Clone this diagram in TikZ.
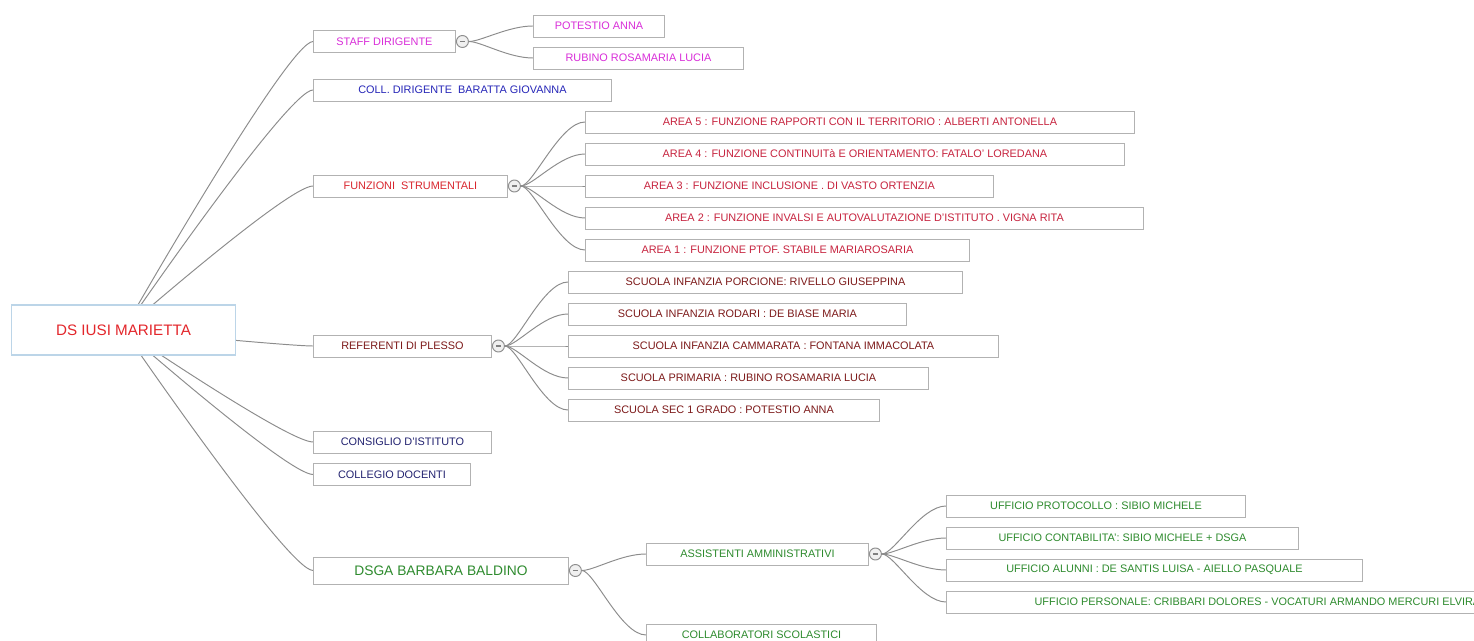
\documentclass[tikz,border=0pt]{standalone}
\usepackage{fontspec}
\setmainfont{Liberation Sans}
\usetikzlibrary{positioning, backgrounds}
\definecolor{boxgray}{HTML}{B2B2B2}
\definecolor{linkgray}{HTML}{8C8C8C}
\definecolor{rootblue}{HTML}{BCD5E8}
\definecolor{rootred}{HTML}{E3262B}
\definecolor{staffpink}{HTML}{D92ED9}
\definecolor{collblue}{HTML}{2626B8}
\definecolor{funzred}{HTML}{D9262E}
\definecolor{areared}{HTML}{C7243F}
\definecolor{plessored}{HTML}{7D1A1A}
\definecolor{organavy}{HTML}{222270}
\definecolor{ammgreen}{HTML}{2E8B2E}

\begin{document}
\begin{tikzpicture}[
        x=0.02cm, y=-0.02cm,
        font=\fontsize{6.2}{7}\selectfont,
        box/.style={draw=boxgray, line width=0.55pt, fill=white, anchor=west,
                    minimum height=0.44cm, inner sep=0pt},
        rootbox/.style={draw=rootblue, line width=0.6pt, fill=white, anchor=west,
                        minimum width=4.48cm, minimum height=1cm,
                        font=\fontsize{8.65}{10}\selectfont, text=rootred},
        fold/.style={circle, draw=boxgray!80!black, fill=gray!12, line width=0.55pt,
                     minimum size=0.24cm, inner sep=0pt,
                     path picture={\draw[gray, line width=0.6pt]
                       ([xshift=-0.05cm]path picture bounding box.center) --
                       ([xshift=0.05cm]path picture bounding box.center);}},
        link/.style={draw=linkgray, line width=0.55pt}
    ]
      \useasboundingbox (0,0) rectangle (1474,641);
      \clip (0,0) rectangle (1474,641);

      % --- Root ---
      \node[rootbox] (root) at (11,330) {DS IUSI MARIETTA};

      % --- Staff dirigente ---
      \node[box, minimum width=2.84cm, text=staffpink] (staff) at (313,41.5) {STAFF DIRIGENTE};
      \node[fold, right=0pt of staff] (staffdot) {};
      \node[box, minimum width=2.62cm, text=staffpink] (pot) at (533,26) {POTESTIO ANNA};
      \node[box, minimum width=4.20cm, text=staffpink] (rub) at (533,58) {RUBINO ROSAMARIA LUCIA};

      \node[box, minimum width=5.96cm, text=collblue] (coll) at (313,90) {COLL. DIRIGENTE\ \ BARATTA GIOVANNA};

      % --- Funzioni strumentali ---
      \node[box, minimum width=3.88cm, text=funzred] (funz) at (313,186) {FUNZIONI\ \ STRUMENTALI};
      \node[fold, right=0pt of funz] (funzdot) {};
      \node[box, minimum width=10.98cm, text=areared] (a5) at (585,122) {AREA 5 : FUNZIONE RAPPORTI CON IL TERRITORIO : ALBERTI ANTONELLA};
      \node[box, minimum width=10.78cm, text=areared] (a4) at (585,154) {AREA 4 : FUNZIONE CONTINUITà E ORIENTAMENTO: FATALO' LOREDANA};
      \node[box, minimum width=8.16cm, text=areared] (a3) at (585,186) {AREA 3 : FUNZIONE INCLUSIONE . DI VASTO ORTENZIA};
      \node[box, minimum width=11.16cm, text=areared] (a2) at (585,218) {AREA 2 : FUNZIONE INVALSI E AUTOVALUTAZIONE D'ISTITUTO . VIGNA RITA};
      \node[box, minimum width=7.68cm, text=areared] (a1) at (585,250) {AREA 1 : FUNZIONE PTOF. STABILE MARIAROSARIA};

      % --- Referenti di plesso ---
      \node[box, minimum width=3.56cm, text=plessored] (ref) at (313,346) {REFERENTI DI PLESSO};
      \node[fold, right=0pt of ref] (refdot) {};
      \node[box, minimum width=7.88cm, text=plessored] (s1) at (568,282) {SCUOLA INFANZIA PORCIONE: RIVELLO GIUSEPPINA};
      \node[box, minimum width=6.76cm, text=plessored] (s2) at (568,314) {SCUOLA INFANZIA RODARI : DE BIASE MARIA};
      \node[box, minimum width=8.60cm, text=plessored] (s3) at (568,346) {SCUOLA INFANZIA CAMMARATA : FONTANA IMMACOLATA};
      \node[box, minimum width=7.20cm, text=plessored] (s4) at (568,378) {SCUOLA PRIMARIA : RUBINO ROSAMARIA LUCIA};
      \node[box, minimum width=6.22cm, text=plessored] (s5) at (568,410) {SCUOLA SEC 1 GRADO : POTESTIO ANNA};

      \node[box, minimum width=3.56cm, text=organavy] (cons) at (313,442) {CONSIGLIO D'ISTITUTO};
      \node[box, minimum width=3.14cm, text=organavy] (cold) at (313,474.5) {COLLEGIO DOCENTI};

      % --- DSGA ---
      \node[box, minimum width=5.10cm, minimum height=0.54cm, text=ammgreen,
            font=\fontsize{7.85}{9}\selectfont] (dsga) at (313,570.5) {DSGA BARBARA BALDINO};
      \node[fold, right=0pt of dsga] (dsgadot) {};
      \node[box, minimum width=4.44cm, text=ammgreen] (ass) at (646,554) {ASSISTENTI AMMINISTRATIVI};
      \node[fold, right=0pt of ass] (assdot) {};
      \node[box, minimum width=4.60cm, text=ammgreen] (collab) at (646,635) {COLLABORATORI SCOLASTICI};
      \node[box, minimum width=5.98cm, text=ammgreen] (u1) at (946,506) {UFFICIO PROTOCOLLO : SIBIO MICHELE};
      \node[box, minimum width=7.04cm, text=ammgreen] (u2) at (946,538) {UFFICIO CONTABILITA': SIBIO MICHELE + DSGA};
      \node[box, minimum width=8.32cm, text=ammgreen] (u3) at (946,570) {UFFICIO ALUNNI : DE SANTIS LUISA - AIELLO PASQUALE};
      \node[box, minimum width=12.44cm, text=ammgreen] (u4) at (946,602) {UFFICIO PERSONALE: CRIBBARI DOLORES - VOCATURI ARMANDO MERCURI ELVIRA};

      % Links, behind the boxes
      \begin{scope}[on background layer]
        \foreach \c in {staff,coll,funz,ref,cons,cold,dsga}
          \draw[link] (root.center) .. controls +(0,0) and +(-25,0) .. (\c.west);
        \foreach \c in {pot,rub}
          \draw[link] (staffdot.east) .. controls +(12,0) and +(-25,0) .. (\c.west);
        \foreach \c in {a5,a4,a3,a2,a1}
          \draw[link] (funzdot.east) .. controls +(12,0) and +(-25,0) .. (\c.west);
        \foreach \c in {s1,s2,s3,s4,s5}
          \draw[link] (refdot.east) .. controls +(12,0) and +(-25,0) .. (\c.west);
        \foreach \c in {ass,collab}
          \draw[link] (dsgadot.east) .. controls +(12,0) and +(-25,0) .. (\c.west);
        \foreach \c in {u1,u2,u3,u4}
          \draw[link] (assdot.east) .. controls +(12,0) and +(-25,0) .. (\c.west);
      \end{scope}
    \end{tikzpicture}
\end{document}
